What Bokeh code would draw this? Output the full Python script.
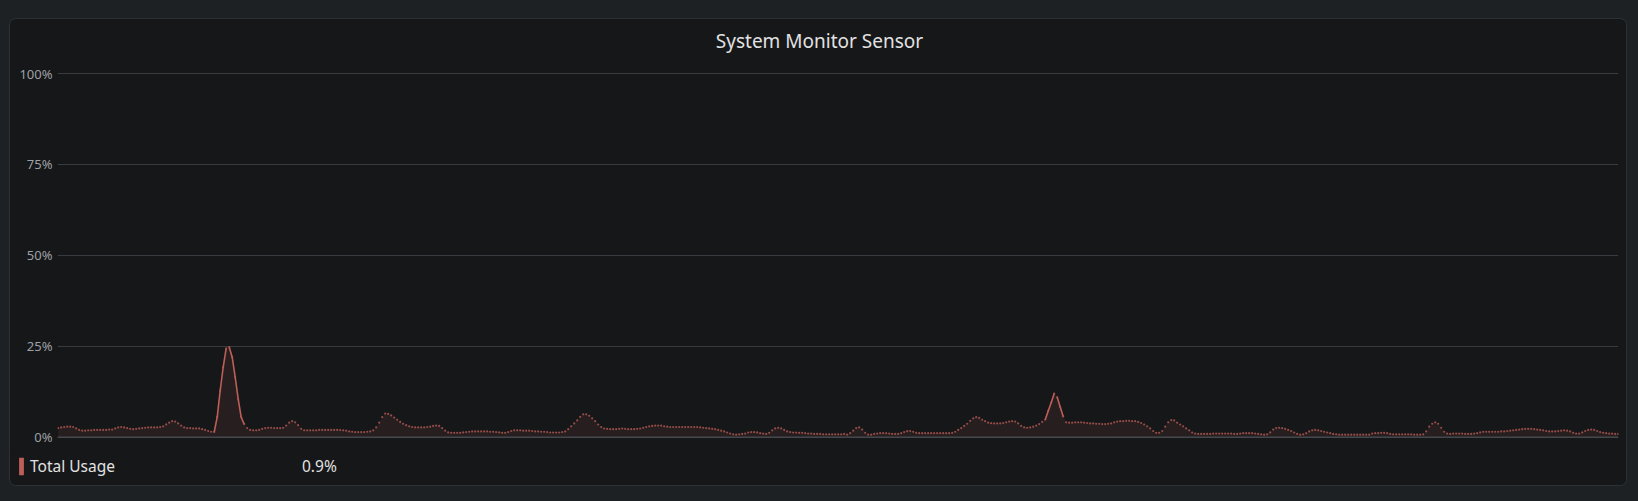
import numpy as np
from bokeh.plotting import figure
from bokeh.layouts import column
from bokeh.models import (Range1d, FixedTicker, Legend, LegendItem, Label,
                          Span, ColumnDataSource)
from bokeh.embed import file_html
from bokeh.resources import INLINE

# ---------------- data ----------------
TITLE = "System Monitor Sensor"
SERIES_NAME = "Total Usage"
CURRENT_VALUE = "0.9%"
Y_TICKS = [0, 25, 50, 75, 100]
Y_TICK_LABELS = ["0%", "25%", "50%", "75%", "100%"]

usage = [
    2.5, 2.7, 2.8, 2.9, 2.9, 2.8, 2.4, 2.0, 1.8, 1.8,
    1.9, 1.9, 2.0, 2.0, 2.0, 2.0, 2.0, 2.1, 2.1, 2.4,
    2.7, 2.8, 2.7, 2.5, 2.3, 2.2, 2.3, 2.4, 2.5, 2.6,
    2.7, 2.7, 2.7, 2.7, 2.8, 3.0, 3.5, 4.0, 4.4, 4.3,
    3.8, 3.2, 2.7, 2.5, 2.5, 2.4, 2.4, 2.4, 2.2, 2.0,
    1.7, 1.5, 1.4, 5.5, 12.8, 19.3, 24.4, 24.8, 22.0, 16.5,
    10.5, 5.5, 3.6, 2.5, 2.0, 1.9, 1.9, 2.0, 2.3, 2.5,
    2.6, 2.6, 2.5, 2.5, 2.5, 2.6, 3.2, 4.0, 4.4, 4.1,
    3.3, 2.3, 1.9, 1.9, 1.9, 1.9, 1.9, 2.0, 2.0, 2.0,
    2.0, 2.0, 2.0, 2.0, 1.95, 1.9, 1.8, 1.6, 1.5, 1.4,
    1.4, 1.4, 1.4, 1.5, 1.6, 1.9, 2.7, 4.0, 5.5, 6.5,
    6.4, 6.0, 5.4, 4.8, 4.2, 3.7, 3.3, 3.0, 2.8, 2.7,
    2.7, 2.7, 2.7, 2.8, 2.9, 3.1, 3.2, 3.1, 2.5, 1.8,
    1.3, 1.2, 1.2, 1.2, 1.2, 1.3, 1.4, 1.5, 1.6, 1.6,
    1.6, 1.6, 1.6, 1.6, 1.5, 1.5, 1.4, 1.3, 1.2, 1.2,
    1.4, 1.7, 1.9, 1.9, 1.9, 1.8, 1.8, 1.8, 1.7, 1.6,
    1.6, 1.5, 1.5, 1.4, 1.3, 1.3, 1.3, 1.3, 1.4, 1.6,
    2.2, 3.0, 3.8, 4.6, 5.6, 6.3, 6.3, 5.9, 5.2, 4.4,
    3.5, 2.8, 2.4, 2.3, 2.2, 2.2, 2.2, 2.3, 2.4, 2.3,
    2.2, 2.2, 2.2, 2.3, 2.4, 2.6, 2.8, 3.0, 3.1, 3.2,
    3.2, 3.2, 3.0, 2.9, 2.8, 2.8, 2.8, 2.8, 2.8, 2.8,
    2.8, 2.8, 2.8, 2.8, 2.7, 2.6, 2.5, 2.4, 2.3, 2.2,
    2.0, 1.8, 1.6, 1.3, 1.0, 0.8, 0.7, 0.8, 0.9, 1.0,
    1.3, 1.4, 1.4, 1.3, 1.1, 1.0, 0.9, 1.2, 1.9, 2.4,
    2.6, 2.4, 2.0, 1.6, 1.4, 1.3, 1.3, 1.2, 1.2, 1.1,
    1.0, 1.0, 0.9, 0.9, 0.9, 0.8, 0.8, 0.8, 0.8, 0.8,
    0.8, 0.8, 0.9, 0.7, 1.1, 1.8, 2.5, 2.7, 2.1, 1.2,
    0.7, 0.7, 0.9, 1.0, 1.1, 1.1, 1.1, 1.0, 0.9, 0.9,
    0.9, 1.1, 1.4, 1.65, 1.7, 1.5, 1.2, 1.1, 1.1, 1.1,
    1.1, 1.1, 1.1, 1.1, 1.1, 1.1, 1.1, 1.1, 1.2, 1.5,
    2.0, 2.5, 3.1, 3.7, 4.5, 5.2, 5.5, 5.3, 4.8, 4.4,
    4.0, 3.85, 3.8, 3.8, 3.8, 3.9, 4.1, 4.3, 4.4, 4.3,
    3.8, 3.1, 2.7, 2.6, 2.7, 2.9, 3.2, 3.6, 4.2, 4.8,
    7.2, 9.5, 12.0, 11.0, 8.3, 5.7, 4.1, 4.0, 4.0, 4.1,
    4.1, 4.1, 4.0, 3.9, 3.8, 3.8, 3.7, 3.7, 3.6, 3.6,
    3.7, 3.8, 4.1, 4.3, 4.4, 4.4, 4.5, 4.5, 4.4, 4.4,
    4.2, 3.9, 3.5, 3.0, 2.4, 1.7, 1.2, 1.2, 1.7, 2.9,
    4.1, 4.7, 4.6, 4.0, 3.5, 3.0, 2.4, 1.9, 1.3, 1.0,
    0.9, 0.9, 0.9, 0.9, 0.9, 1.0, 1.0, 1.0, 1.0, 1.0,
    1.0, 1.0, 0.9, 0.9, 1.0, 1.1, 1.1, 1.1, 1.1, 1.0,
    0.9, 0.8, 0.7, 0.8, 1.3, 2.1, 2.5, 2.6, 2.5, 2.3,
    2.0, 1.7, 1.3, 0.9, 0.7, 0.8, 1.1, 1.6, 1.9, 2.0,
    1.9, 1.7, 1.5, 1.3, 1.1, 0.9, 0.8, 0.7, 0.7, 0.7,
    0.7, 0.7, 0.7, 0.7, 0.7, 0.7, 0.7, 0.7, 1.0, 1.1,
    1.1, 1.2, 1.2, 1.1, 0.9, 0.8, 0.8, 0.8, 0.8, 0.8,
    0.8, 0.8, 0.7, 0.7, 0.7, 0.8, 1.6, 2.9, 3.7, 4.1,
    3.7, 2.6, 1.5, 1.0, 0.9, 1.0, 1.0, 1.0, 1.0, 0.9,
    0.9, 0.9, 1.0, 1.1, 1.3, 1.5, 1.5, 1.5, 1.5, 1.5,
    1.5, 1.6, 1.6, 1.7, 1.8, 1.9, 2.0, 2.1, 2.2, 2.3,
    2.3, 2.3, 2.2, 2.1, 2.0, 1.9, 1.7, 1.6, 1.6, 1.6,
    1.7, 1.8, 1.9, 1.8, 1.6, 1.2, 1.0, 1.0, 1.3, 1.7,
    2.0, 2.1, 2.0, 1.7, 1.4, 1.2, 1.1, 1.0, 1.0, 0.9,
    0.9,
]
sample = list(range(len(usage)))

# ---------------- style ----------------
PAGE_BG = "#1e2124"
CARD_BG = "#161719"
CARD_BORDER = "#2d3035"
GRID = "#383b40"
SERIES = "#bd5e57"
AXIS_TEXT = "#9da1a6"
TEXT = "#e2e2e2"
FONT = "Noto Sans"

# geometry (pixels inside the card)
CARD_W = 1616
CHART_H = 430
LEGEND_H = 36
FRAME_L, FRAME_R, FRAME_T, FRAME_B = 47, 8, 5, 5
PX_PER_SAMPLE = 3.0
Y_TOP_PX, Y_ZERO_PX = 54.0, 417.7          # canvas rows of 100% and 0%
px_per_pct = (Y_ZERO_PX - Y_TOP_PX) / 100.0
y_start = -(CHART_H - FRAME_B - Y_ZERO_PX) / px_per_pct
y_end = 100 + (Y_TOP_PX - FRAME_T) / px_per_pct
x_start = -0.23
x_end = x_start + (CARD_W - FRAME_L - FRAME_R) / PX_PER_SAMPLE

src = ColumnDataSource(dict(sample=sample, usage=usage))

# ---------------- chart ----------------
p = figure(width=CARD_W, height=CHART_H,
           x_range=Range1d(x_start, x_end), y_range=Range1d(y_start, y_end),
           output_backend="svg", toolbar_location=None,
           x_axis_location=None,
           min_border_left=FRAME_L, min_border_right=FRAME_R,
           min_border_top=FRAME_T, min_border_bottom=FRAME_B,
           background_fill_color=CARD_BG, border_fill_color=CARD_BG,
           outline_line_color=None)
p.frame_align = False

p.yaxis.ticker = FixedTicker(ticks=Y_TICKS)
p.yaxis.major_label_overrides = {t: l for t, l in zip(Y_TICKS, Y_TICK_LABELS)}
p.yaxis.axis_line_color = None
p.yaxis.major_tick_line_color = None
p.yaxis.minor_tick_line_color = None
p.yaxis.major_tick_out = 0
p.yaxis.major_label_standoff = 5
p.yaxis.major_label_text_font = FONT
p.yaxis.major_label_text_font_size = "13px"
p.yaxis.major_label_text_color = AXIS_TEXT

p.xgrid.visible = False
p.ygrid.ticker = FixedTicker(ticks=Y_TICKS)
p.ygrid.grid_line_color = GRID
p.ygrid.grid_line_width = 1

p.add_layout(Span(location=0, dimension="width", line_color="#45484d", line_width=1.5))

# title, centred on the card, 21px below its top edge
p.add_layout(Label(x=x_start + (809 - FRAME_L) / PX_PER_SAMPLE,
                   y=100 + (Y_TOP_PX - 21) / px_per_pct,
                   text=TITLE, text_align="center", text_baseline="middle",
                   text_font=FONT, text_font_size="19px", text_color=TEXT))

# area under the series
p.varea(x="sample", y1=0, y2="usage", source=src, fill_color=SERIES, fill_alpha=0.1)

# steep parts are drawn as connected lines
xs = np.array(sample, dtype=float)
ys = np.array(usage, dtype=float)
steep = np.abs(np.diff(ys)) > 1.8
p.segment(x0=xs[:-1][steep], y0=ys[:-1][steep], x1=xs[1:][steep], y1=ys[1:][steep],
          line_color=SERIES, line_width=1.6)

# sample points
p.scatter("sample", "usage", source=src, size=2.2, marker="circle",
          fill_color=SERIES, line_color=None, fill_alpha=0.75)

# ---------------- legend row ----------------
lg = figure(width=CARD_W, height=LEGEND_H, x_range=Range1d(0, 1), y_range=Range1d(0, 1),
            output_backend="svg", toolbar_location=None,
            x_axis_location=None, y_axis_location=None,
            min_border=0, min_border_left=0, min_border_right=0,
            min_border_top=0, min_border_bottom=0,
            background_fill_color=CARD_BG, border_fill_color=CARD_BG,
            outline_line_color=None)
lg.frame_align = False
lg.xgrid.visible = False
lg.ygrid.visible = False
# legend keys (kept outside the visible range of this row)
swatch = lg.quad(left=[-3], right=[-2], bottom=[-3], top=[-2],
                 fill_color=SERIES, line_color=None)
blank = lg.quad(left=[-3], right=[-2], bottom=[-3], top=[-2],
                fill_alpha=0, line_color=None)
legend = Legend(items=[LegendItem(label=SERIES_NAME, renderers=[swatch]),
                       LegendItem(label=CURRENT_VALUE, renderers=[blank])],
                location=(8, 8), orientation="horizontal",
                glyph_width=6, glyph_height=22, label_standoff=6,
                label_width=260, padding=0, margin=0, spacing=0,
                border_line_color=None, background_fill_alpha=0,
                label_text_font=FONT, label_text_font_size="15.5px",
                label_text_color=TEXT, label_height=22,
                label_text_baseline="middle")
lg.add_layout(legend)

card = column(p, lg, spacing=0)
card.styles = {"border-radius": "6px", "overflow": "hidden",
               "box-shadow": "0 0 0 1px " + CARD_BORDER,
               "background-color": CARD_BG}

html = file_html(card, INLINE)
css = ("<style>html,body{background:%s;margin:0;padding:0;}"
       "body{padding:19px 0 0 10px;}</style>" % PAGE_BG)
html = html.replace("</head>", css + "</head>", 1)
open("out.html", "w").write(html)
